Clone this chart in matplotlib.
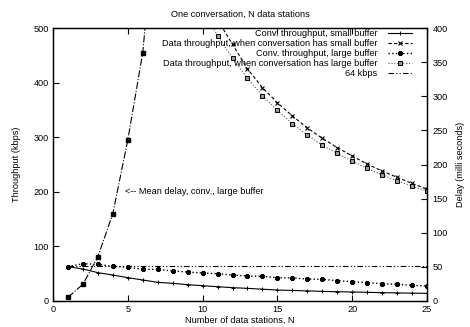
import numpy as np
import matplotlib
matplotlib.use("Agg")
import matplotlib.pyplot as plt

plt.rcParams['font.family'] = ['Liberation Sans', 'DejaVu Sans']

# ----------------------------------------
# data
# ----------------------------------------
n_all = np.arange(1, 26)
conv_small = [62.8, 58.6, 51.9, 47.6, 42.7, 38.5, 34.2, 32.4, 29.9, 28.0, 26.2, 24.4,
              23.2, 21.6, 20.1, 19.3, 18.5, 17.6, 17.0, 16.5, 15.9, 15.3, 14.8, 14.4, 14.0]
conv_large = [63.0, 68.3, 67.2, 63.5, 61.7, 58.0, 58.0, 55.0, 53.0, 51.3, 50.0, 47.6,
              45.8, 45.2, 42.7, 42.1, 40.3, 39.7, 37.2, 35.4, 33.6, 31.7, 30.5, 28.7, 27.5]

n_data = np.arange(11, 26)
data_small = [515, 470, 425, 391, 363, 339, 317, 298, 281, 265.5, 251, 238, 226.5, 215.5, 204.6]
n_data_l = np.arange(10, 26)
data_large = [535, 486, 444.5, 408, 376, 349, 325, 304, 285, 270.5, 256, 243, 231, 220, 210.6, 201]

n_delay = np.arange(1, 8)
mean_delay = [5.4, 24.5, 65, 128, 236, 364, 600]   # milli seconds, right axis

ref_n = [1, 25]
ref_kbps = [64, 64]

# ----------------------------------------
# figure
# ----------------------------------------
fig = plt.figure(figsize=(4.7, 3.27), dpi=100)
ax = fig.add_axes([53/470, 26/327, 374/470, 273/327])
ax2 = ax.twinx()

lw = 0.8
h1, = ax.plot(n_all, conv_small, '-', color='black', lw=lw, marker='+', ms=3.5, mew=0.7,
              label='Conv. throughput, small buffer')
h2, = ax.plot(n_data, data_small, '--', color='black', lw=lw, marker='x', ms=2.8, mew=0.8,
              dashes=(3, 2), label='Data throughput, when conversation has small buffer')
h3, = ax.plot(n_all, conv_large, ':', color='black', lw=1.0, marker=(8, 2, 0), ms=3.5, mew=1.1,
              label='Conv. throughput, large buffer')
h4, = ax.plot(n_data_l, data_large, ':', color='0.35', lw=lw, marker='s', ms=3.0, mew=0.7,
              mfc='0.6', mec='black', label='Data throughput, when conversation has large buffer')
h5, = ax.plot(ref_n, ref_kbps, color='black', lw=lw, dashes=(5, 2, 1, 2, 1, 2),
              label='64 kbps')
ax2.plot(n_delay, mean_delay, '-.', color='black', lw=lw, marker='s', ms=3.2, mfc='black',
         mec='black')

ax.set_xlim(0, 25)
ax.set_ylim(0, 500)
ax2.set_ylim(0, 400)
ax.set_xticks(range(0, 26, 5))
ax.set_yticks(range(0, 501, 100))
ax2.set_yticks(range(0, 401, 50))

fs = 6.6
ax.tick_params(direction='in', length=4, width=0.8, labelsize=fs, top=True, right=False, pad=3)
ax2.tick_params(direction='in', length=4, width=0.8, labelsize=fs, pad=4)
for a in (ax, ax2):
    for s in a.spines.values():
        s.set_linewidth(0.9)

ax.set_xlabel('Number of data stations, N', fontsize=fs, labelpad=1)
ax.set_ylabel('Throughput (kbps)', fontsize=fs, labelpad=9)
ax2.set_ylabel('Delay (milli seconds)', fontsize=fs, labelpad=6)
ax.set_title('One conversation, N data stations', fontsize=fs, pad=8)

ax.text(4.8, 200, '<-- Mean delay, conv., large buffer', fontsize=fs, va='center', ha='left')

leg = ax.legend(handles=[h1, h2, h3, h4, h5], loc='upper right', frameon=False,
                markerfirst=False, fontsize=fs, handlelength=2.6, handletextpad=1.2,
                labelspacing=0.12, borderaxespad=0.0, bbox_to_anchor=(0.97, 1.01))
for t in leg.get_texts():
    t.set_ha('right')
leg._legend_box.align = 'right'

fig.savefig('out.png', dpi=100)
